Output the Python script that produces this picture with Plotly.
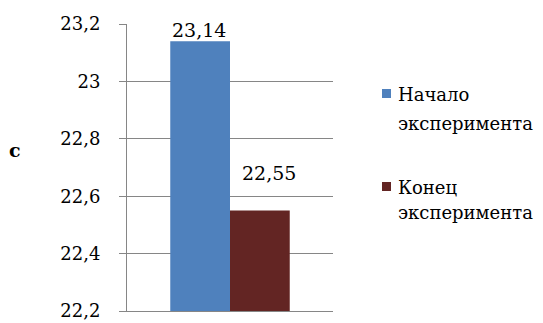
import plotly.graph_objects as go

# ---- data ----
categories = [""]
series_names = ["Начало эксперимента", "Конец эксперимента"]
series_values = [[23.14], [22.55]]
label_texts = ["23,14", "22,55"]
y_tick_vals = [22.2, 22.4, 22.6, 22.8, 23.0, 23.2]
y_tick_text = ["22,2", "22,4", "22,6", "22,8", "23", "23,2"]
y_range = [22.2, 23.2]
axis_title = "с"

# ---- style ----
colors = ["#4F81BD", "#632523"]
W, H = 543, 323
ML, MR, MT, MB = 127, 210, 24, 12
FONT = "DejaVu Serif"
GRID = "#868686"
BARGAP = 0.42
label_shift = [(-1.5, 11), (9, 37.5)]  # (xshift, yshift) per label

PW = W - ML - MR
PH = H - MT - MB


def px(xp):
    return (xp - ML) / PW


def py(yp):
    return (H - MB - yp) / PH


fig = go.Figure()
for name, vals, col in zip(series_names, series_values, colors):
    fig.add_trace(go.Bar(x=categories, y=vals, name=name, marker_color=col,
                         marker_line_width=0, showlegend=False))

n = len(series_names)
annotations = []
for i, (vals, txt) in enumerate(zip(series_values, label_texts)):
    off = (i - (n - 1) / 2) * (1 - BARGAP) / n
    annotations.append(dict(x=off, y=vals[0], xref="x", yref="y", text=txt,
                            showarrow=False, xanchor="center", yanchor="middle",
                            xshift=label_shift[i][0], yshift=label_shift[i][1],
                            font=dict(family=FONT, size=19, color="black")))

# axis title
annotations.append(dict(x=px(14.5), y=py(150), xref="paper", yref="paper",
                        text="<b>" + axis_title + "</b>", showarrow=False,
                        xanchor="center", yanchor="middle",
                        font=dict(family=FONT, size=19, color="black")))

# custom legend (text from series names)
legend_rows = [(95, 123), (187, 213)]
marker_boxes = [(89, 98), (182, 191)]
shapes = []
for i, name in enumerate(series_names):
    words = name.split(" ")
    for w, yc in zip(words, legend_rows[i]):
        annotations.append(dict(x=px(396), y=py(yc), xref="paper", yref="paper",
                                text=w, showarrow=False, xanchor="left",
                                yanchor="middle",
                                font=dict(family=FONT, size=18, color="black")))
    y0, y1 = marker_boxes[i]
    shapes.append(dict(type="rect", xref="paper", yref="paper",
                       x0=px(382), x1=px(391), y0=py(y1), y1=py(y0),
                       fillcolor=colors[i], line_width=0))

fig.update_layout(
    width=W, height=H,
    margin=dict(l=ML, r=MR, t=MT, b=MB, pad=0, autoexpand=False),
    paper_bgcolor="white", plot_bgcolor="white",
    barmode="group", bargap=BARGAP, bargroupgap=0,
    separators=", ",
    showlegend=False,
    annotations=annotations,
    shapes=shapes,
    font=dict(family=FONT, size=18, color="black"),
)
fig.update_xaxes(showticklabels=False, showgrid=False, zeroline=False,
                 showline=True, linecolor=GRID, linewidth=1, ticks="",
                 automargin=False)
fig.update_yaxes(range=y_range, tickvals=y_tick_vals, ticktext=y_tick_text,
                 showgrid=True, gridcolor=GRID, gridwidth=1, zeroline=False,
                 showline=True, linecolor=GRID, linewidth=1,
                 ticks="outside", ticklen=7, tickcolor=GRID, tickwidth=1,
                 ticklabelstandoff=15, automargin=False,
                 tickfont=dict(family=FONT, size=18, color="black"))

fig.write_html("out.html")
